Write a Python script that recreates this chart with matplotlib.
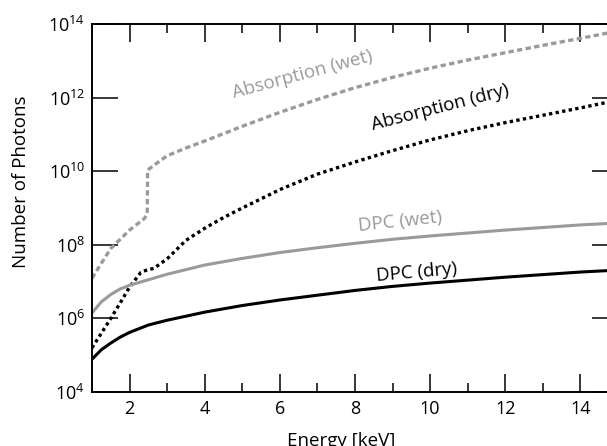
import matplotlib
matplotlib.use("Agg")
import matplotlib.pyplot as plt
import numpy as np
from matplotlib.ticker import FixedLocator, LogFormatterMathtext, NullLocator, MultipleLocator

plt.rcParams['font.family'] = ['Open Sans', 'DejaVu Sans']
plt.rcParams['mathtext.fontset'] = 'custom'
plt.rcParams['mathtext.rm'] = 'Open Sans'
plt.rcParams['mathtext.it'] = 'Open Sans'
plt.rcParams['mathtext.bf'] = 'Open Sans'

# Data (log10 of photon numbers)
abs_wet_E = [1.0, 1.25, 1.5, 1.75, 2.0, 2.25, 2.4, 2.47, 2.48, 2.7, 3.0, 3.5, 4.0, 4.5, 5.0, 6.0, 7.0, 8.0, 9.0, 10.0, 11.0, 12.0, 13.0, 14.0, 14.75]
abs_wet_log = [7.09, 7.5, 7.9, 8.15, 8.4, 8.6, 8.72, 8.85, 10.03, 10.2, 10.42, 10.63, 10.82, 11.02, 11.22, 11.6, 11.95, 12.27, 12.55, 12.8, 13.02, 13.22, 13.42, 13.61, 13.76]

abs_dry_E = [1.0, 1.25, 1.5, 1.75, 2.0, 2.15, 2.3, 2.47, 2.65, 3.0, 3.5, 4.0, 4.5, 5.0, 6.0, 7.0, 8.0, 9.0, 10.0, 11.0, 12.0, 13.0, 14.0, 14.75]
abs_dry_log = [5.2, 5.6, 6.0, 6.42, 6.85, 7.05, 7.25, 7.32, 7.36, 7.62, 8.12, 8.45, 8.74, 9.0, 9.5, 9.92, 10.25, 10.56, 10.85, 11.1, 11.32, 11.52, 11.72, 11.88]

dpc_wet_E = [1.0, 1.25, 1.5, 1.75, 2.0, 2.5, 3.0, 4.0, 5.0, 6.0, 7.0, 8.0, 9.0, 10.0, 11.0, 12.0, 13.0, 14.0, 14.75]
dpc_wet_log = [6.15, 6.45, 6.65, 6.8, 6.9, 7.05, 7.2, 7.45, 7.63, 7.79, 7.92, 8.04, 8.15, 8.24, 8.32, 8.4, 8.47, 8.54, 8.58]

dpc_dry_E = [1.0, 1.25, 1.5, 1.75, 2.0, 2.5, 3.0, 4.0, 5.0, 6.0, 7.0, 8.0, 9.0, 10.0, 11.0, 12.0, 13.0, 14.0, 14.75]
dpc_dry_log = [4.89, 5.15, 5.33, 5.49, 5.62, 5.82, 5.95, 6.17, 6.35, 6.5, 6.63, 6.76, 6.87, 6.96, 7.04, 7.12, 7.19, 7.26, 7.3]

y_ticks = [1e4, 1e6, 1e8, 1e10, 1e12, 1e14]
x_major = [2, 4, 6, 8, 10, 12, 14]

labels = ["Absorption (wet)", "Absorption (dry)", "DPC (wet)", "DPC (dry)"]

gray = '#9a9a9a'

fig = plt.figure(figsize=(6.07, 4.46), dpi=100)
ax = fig.add_axes([92/607, (446-392)/446, 526/607, 368/446])

ax.plot(abs_wet_E, 10**np.array(abs_wet_log), color=gray, lw=2.4, linestyle=(0, (1.6, 1.0)))
ax.plot(abs_dry_E, 10**np.array(abs_dry_log), color='black', lw=2.4, linestyle=(0, (1.0, 1.0)))
ax.plot(dpc_wet_E, 10**np.array(dpc_wet_log), color=gray, lw=2.2)
ax.plot(dpc_dry_E, 10**np.array(dpc_dry_log), color='black', lw=2.2)

ax.set_yscale('log')
ax.set_xlim(1, 15)
ax.set_ylim(1e4, 1e14)

ax.yaxis.set_major_locator(FixedLocator(y_ticks))
ax.yaxis.set_major_formatter(LogFormatterMathtext())
ax.yaxis.set_minor_locator(NullLocator())
ax.xaxis.set_major_locator(FixedLocator(x_major))
ax.xaxis.set_minor_locator(MultipleLocator(1))

ax.tick_params(axis='y', which='major', direction='in', length=18.5, width=1.1,
               left=True, right=True, labelsize=13, pad=5)
ax.tick_params(axis='x', which='major', direction='in', length=13, width=1.1,
               top=True, bottom=True, labelsize=13, pad=6)
ax.tick_params(axis='x', which='minor', direction='in', length=6.5, width=1.1,
               top=True, bottom=True)

for s in ax.spines.values():
    s.set_linewidth(1.4)

ax.set_xlabel("Energy [keV]", fontsize=13.5)
ax.xaxis.set_label_coords((341-92)/526, -(432-392)/368)
ax.set_ylabel("Number of Photons", fontsize=13.5)
ax.yaxis.set_label_coords((30-92)/526, (392-182)/368)

ax.text(6.6, 10**12.62, labels[0], color=gray, fontsize=13.5, rotation=15,
        ha='center', va='center')
ax.text(10.28, 10**11.74, labels[1], color='black', fontsize=13.5, rotation=14.5,
        ha='center', va='center')
ax.text(9.21, 10**8.62, labels[2], color=gray, fontsize=13.5, rotation=6,
        ha='center', va='center')
ax.text(9.64, 10**7.26, labels[3], color='black', fontsize=13.5, rotation=5,
        ha='center', va='center')

fig.savefig("out.png", dpi=100)
